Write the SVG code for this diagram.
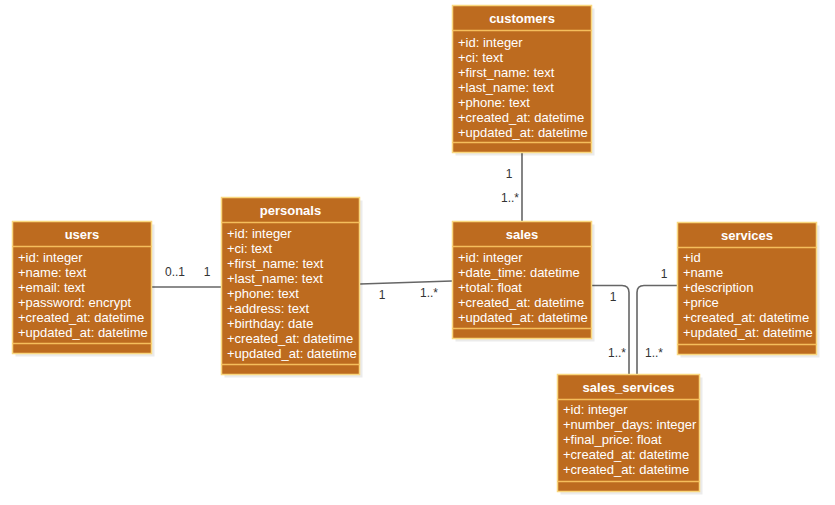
<svg xmlns="http://www.w3.org/2000/svg" width="835" height="505" viewBox="0 0 835 505">
<style>
.box{fill:#BD6B1F;stroke:#F9D77E;stroke-width:1.5}
.shadow{fill:#000;opacity:0.08}
.sep{stroke:#F5BE5C;stroke-width:1.5}
.title{font-family:"Liberation Sans",Arial,sans-serif;font-size:13px;font-weight:bold;fill:#fff;text-anchor:middle}
.attr{font-family:"Liberation Sans",Arial,sans-serif;font-size:13px;fill:#fff}
.conn{fill:none;stroke:#666;stroke-width:1.6}
.lbl{font-family:"Liberation Sans",Arial,sans-serif;font-size:12px;fill:#333;text-anchor:middle}
</style>
<rect width="835" height="505" fill="#fff"/>
<g id="connectors">
<path class="conn" d="M152,287 L221,287"/>
<path class="conn" d="M360,284 L452,281" stroke="#333"/>
<path class="conn" d="M522,152 L522,221"/>
<path class="conn" d="M592,285.5 L622,285.5 Q629,285.5 629,292.5 L629,374"/>
<path class="conn" d="M677,285.5 L644,285.5 Q637,285.5 637,292.5 L637,374"/>
<text class="lbl" x="175" y="276">0..1</text>
<text class="lbl" x="207" y="276">1</text>
<text class="lbl" x="382" y="299">1</text>
<text class="lbl" x="429" y="297">1..*</text>
<text class="lbl" x="509" y="178">1</text>
<text class="lbl" x="510" y="202">1..*</text>
<text class="lbl" x="613" y="301">1</text>
<text class="lbl" x="617" y="357">1..*</text>
<text class="lbl" x="664" y="278">1</text>
<text class="lbl" x="654" y="357">1..*</text>
</g>
<g id="customers">
<rect class="shadow" x="455.5" y="8.5" width="139" height="147"/>
<rect class="box" x="452.5" y="5.5" width="139" height="147"/>
<line class="sep" x1="452.5" y1="30.5" x2="591.5" y2="30.5"/>
<line class="sep" x1="452.5" y1="142.5" x2="591.5" y2="142.5"/>
<text class="title" x="522" y="23">customers</text>
<text class="attr" x="458" y="46.5">+id: integer</text>
<text class="attr" x="458" y="61.5">+ci: text</text>
<text class="attr" x="458" y="76.5">+first_name: text</text>
<text class="attr" x="458" y="91.5">+last_name: text</text>
<text class="attr" x="458" y="106.5">+phone: text</text>
<text class="attr" x="458" y="121.5">+created_at: datetime</text>
<text class="attr" x="458" y="136.5">+updated_at: datetime</text>
</g>
<g id="users">
<rect class="shadow" x="15.5" y="224.5" width="139" height="132"/>
<rect class="box" x="12.5" y="221.5" width="139" height="132"/>
<line class="sep" x1="12.5" y1="246.5" x2="151.5" y2="246.5"/>
<line class="sep" x1="12.5" y1="343.5" x2="151.5" y2="343.5"/>
<text class="title" x="82" y="239">users</text>
<text class="attr" x="18" y="262">+id: integer</text>
<text class="attr" x="18" y="277">+name: text</text>
<text class="attr" x="18" y="292">+email: text</text>
<text class="attr" x="18" y="307">+password: encrypt</text>
<text class="attr" x="18" y="322">+created_at: datetime</text>
<text class="attr" x="18" y="337">+updated_at: datetime</text>
</g>
<g id="personals">
<rect class="shadow" x="224.5" y="200.5" width="138" height="177"/>
<rect class="box" x="221.5" y="197.5" width="138" height="177"/>
<line class="sep" x1="221.5" y1="222.5" x2="359.5" y2="222.5"/>
<line class="sep" x1="221.5" y1="364.5" x2="359.5" y2="364.5"/>
<text class="title" x="290.5" y="215">personals</text>
<text class="attr" x="227" y="238">+id: integer</text>
<text class="attr" x="227" y="253">+ci: text</text>
<text class="attr" x="227" y="268">+first_name: text</text>
<text class="attr" x="227" y="283">+last_name: text</text>
<text class="attr" x="227" y="298">+phone: text</text>
<text class="attr" x="227" y="313">+address: text</text>
<text class="attr" x="227" y="328">+birthday: date</text>
<text class="attr" x="227" y="343">+created_at: datetime</text>
<text class="attr" x="227" y="358">+updated_at: datetime</text>
</g>
<g id="sales">
<rect class="shadow" x="455.5" y="224.5" width="139" height="117"/>
<rect class="box" x="452.5" y="221.5" width="139" height="117"/>
<line class="sep" x1="452.5" y1="246.5" x2="591.5" y2="246.5"/>
<line class="sep" x1="452.5" y1="328.5" x2="591.5" y2="328.5"/>
<text class="title" x="522" y="239">sales</text>
<text class="attr" x="458" y="262">+id: integer</text>
<text class="attr" x="458" y="277">+date_time: datetime</text>
<text class="attr" x="458" y="292">+total: float</text>
<text class="attr" x="458" y="307">+created_at: datetime</text>
<text class="attr" x="458" y="322">+updated_at: datetime</text>
</g>
<g id="services">
<rect class="shadow" x="680.5" y="225.5" width="139" height="132"/>
<rect class="box" x="677.5" y="222.5" width="139" height="132"/>
<line class="sep" x1="677.5" y1="247.5" x2="816.5" y2="247.5"/>
<line class="sep" x1="677.5" y1="344.5" x2="816.5" y2="344.5"/>
<text class="title" x="747" y="240">services</text>
<text class="attr" x="683" y="262">+id</text>
<text class="attr" x="683" y="277">+name</text>
<text class="attr" x="683" y="292">+description</text>
<text class="attr" x="683" y="307">+price</text>
<text class="attr" x="683" y="322">+created_at: datetime</text>
<text class="attr" x="683" y="337">+updated_at: datetime</text>
</g>
<g id="sales_services">
<rect class="shadow" x="560.5" y="377.5" width="142" height="117"/>
<rect class="box" x="557.5" y="374.5" width="142" height="117"/>
<line class="sep" x1="557.5" y1="399.5" x2="699.5" y2="399.5"/>
<line class="sep" x1="557.5" y1="481.5" x2="699.5" y2="481.5"/>
<text class="title" x="628.5" y="392">sales_services</text>
<text class="attr" x="563" y="414">+id: integer</text>
<text class="attr" x="563" y="429">+number_days: integer</text>
<text class="attr" x="563" y="444">+final_price: float</text>
<text class="attr" x="563" y="459">+created_at: datetime</text>
<text class="attr" x="563" y="474">+created_at: datetime</text>
</g>
</svg>
